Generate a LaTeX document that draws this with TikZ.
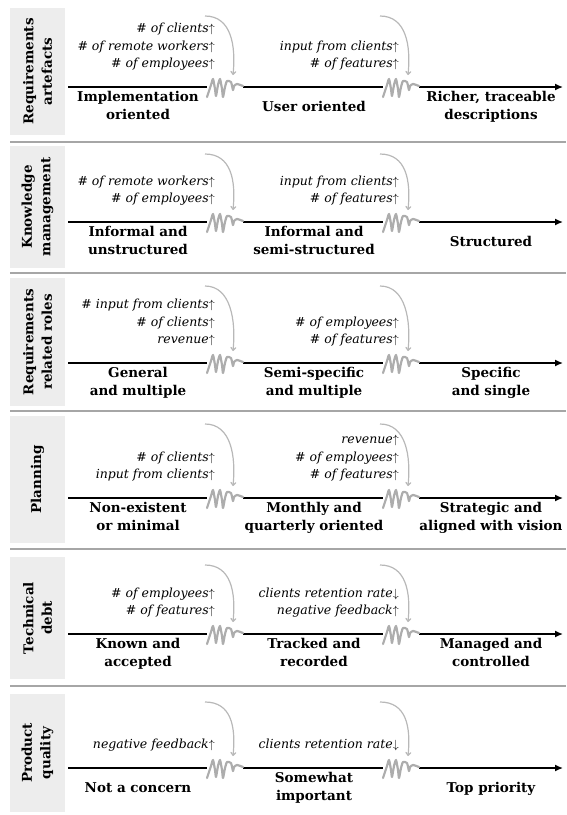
\documentclass[tikz,border=0pt]{standalone}
\usepackage{fontspec}
\setmainfont{DejaVu Serif}
\usetikzlibrary{arrows.meta}
\newcommand\squigpath{plot[smooth,tension=0.35] coordinates {(0,10) (4,-2) (6,-8) (8,2) (9,9) (11,-2) (13,-8) (15,2) (16,10) (18,0) (20,-6) (24,-5) (26,3) (27,-1) (30,-3) (36,-1)}}
\newcommand\stage[4]{%
  \fill[titlebox] (10,#3) rectangle (65,#4);
  \coordinate (#1s) at (68,#2);
  \coordinate (#1qa) at (207,#2);
  \coordinate (#1qb) at (243,#2);
  \coordinate (#1qc) at (383,#2);
  \coordinate (#1qd) at (419,#2);
  \coordinate (#1e) at (563,#2);
  \draw[axisline] (#1s) -- (#1qa) (#1qb) -- (#1qc);
  \draw[axisline,-{Latex[length=8pt,width=7pt]}] (#1qd) -- (#1e);
  \draw[squig,shift={(#1qa)}] \squigpath;
  \draw[squig,shift={(#1qc)}] \squigpath;
  \coordinate (#1ca) at (205,#3+8);
  \coordinate (#1ta) at (233,#2-12);
  \coordinate (#1cb) at (380,#3+8);
  \coordinate (#1tb) at (408,#2-12);
  \draw[cue] (#1ca) .. controls +(26,0) and +(3,-30) .. (#1ta);
  \draw[cue] (#1cb) .. controls +(26,0) and +(3,-30) .. (#1tb);
}
\newcommand\up{$\uparrow$}
\newcommand\dn{$\downarrow$}
\begin{document}
\begin{tikzpicture}[x=1pt,y=-1pt,
  sep/.style={draw=black!35, line width=1.5pt},
  titlebox/.style={fill=black!7},
  title/.style={rotate=90, align=center, inner sep=0pt, font=\bfseries\fontsize{13.5}{18.5}\selectfont},
  axisline/.style={line width=1.4pt},
  squig/.style={draw=black!32, line width=2.2pt, line cap=round, line join=round},
  cue/.style={draw=black!28, line width=1.2pt, -{To[length=4pt,width=6pt]}},
  drv/.style={anchor=south east, inner sep=0pt, align=right, font=\itshape\fontsize{12.5}{17.5}\selectfont, execute at end node=\strut},
  lvl/.style={anchor=center, inner sep=0pt, align=center, font=\bfseries\fontsize{13.5}{18}\selectfont, execute at begin node=\strut, execute at end node=\strut},
]
\useasboundingbox (0,0) rectangle (566,815);

% separators
\coordinate (s1l) at (10,142); \coordinate (s1r) at (566,142);
\coordinate (s2l) at (10,273); \coordinate (s2r) at (566,273);
\coordinate (s3l) at (10,411); \coordinate (s3r) at (566,411);
\coordinate (s4l) at (10,549); \coordinate (s4r) at (566,549);
\coordinate (s5l) at (10,686); \coordinate (s5r) at (566,686);
\draw[sep] (s1l) -- (s1r) (s2l) -- (s2r) (s3l) -- (s3r) (s4l) -- (s4r) (s5l) -- (s5r);

% panel 1
\stage{p1}{87}{8}{135}
\node[title] (p1title) at (37.5,71.5) {Requirements\\artefacts};
\node[drv] (p1ga) at (215,73.25) {\# of clients\up\\\# of remote workers\up\\\# of employees\up};
\node[drv] (p1gb) at (399,73.25) {input from clients\up\\\# of features\up};
\node[lvl] (p1la) at (138,108) {Implementation\\oriented};
\node[lvl] (p1lb) at (314,108) {User oriented};
\node[lvl] (p1lc) at (491,108) {Richer, traceable\\descriptions};

% panel 2
\stage{p2}{222}{146}{268}
\node[title] (p2title) at (37.5,207) {Knowledge\\management};
\node[drv] (p2ga) at (215,208.25) {\# of remote workers\up\\\# of employees\up};
\node[drv] (p2gb) at (399,208.25) {input from clients\up\\\# of features\up};
\node[lvl] (p2la) at (138,243) {Informal and\\unstructured};
\node[lvl] (p2lb) at (314,243) {Informal and\\semi-structured};
\node[lvl] (p2lc) at (491,243) {Structured};

% panel 3
\stage{p3}{363}{278}{406}
\node[title] (p3title) at (37.5,342) {Requirements\\related roles};
\node[drv] (p3ga) at (215,349.25) {\# input from clients\up\\\# of clients\up\\revenue\up};
\node[drv] (p3gb) at (399,349.25) {\# of employees\up\\\# of features\up};
\node[lvl] (p3la) at (138,384) {General\\and multiple};
\node[lvl] (p3lb) at (314,384) {Semi-specific\\and multiple};
\node[lvl] (p3lc) at (491,384) {Specific\\and single};

% panel 4
\stage{p4}{498}{416}{543}
\node[title] (p4title) at (37.5,479.5) {Planning};
\node[drv] (p4ga) at (215,484.25) {\# of clients\up\\input from clients\up};
\node[drv] (p4gb) at (399,484.25) {revenue\up\\\# of employees\up\\\# of features\up};
\node[lvl] (p4la) at (138,519) {Non-existent\\or minimal};
\node[lvl] (p4lb) at (314,519) {Monthly and\\quarterly oriented};
\node[lvl] (p4lc) at (491,519) {Strategic and\\aligned with vision};

% panel 5
\stage{p5}{634}{557}{679}
\node[title] (p5title) at (37.5,618) {Technical\\debt};
\node[drv] (p5ga) at (215,620.25) {\# of employees\up\\\# of features\up};
\node[drv] (p5gb) at (399,620.25) {clients retention rate\dn\\negative feedback\up};
\node[lvl] (p5la) at (138,655) {Known and\\accepted};
\node[lvl] (p5lb) at (314,655) {Tracked and\\recorded};
\node[lvl] (p5lc) at (491,655) {Managed and\\controlled};

% panel 6
\stage{p6}{768}{694}{812}
\node[title] (p6title) at (37.5,753) {Product\\quality};
\node[drv] (p6ga) at (215,754.25) {negative feedback\up};
\node[drv] (p6gb) at (399,754.25) {clients retention rate\dn};
\node[lvl] (p6la) at (138,789) {Not a concern};
\node[lvl] (p6lb) at (314,789) {Somewhat\\important};
\node[lvl] (p6lc) at (491,789) {Top priority};
\end{tikzpicture}
\end{document}
